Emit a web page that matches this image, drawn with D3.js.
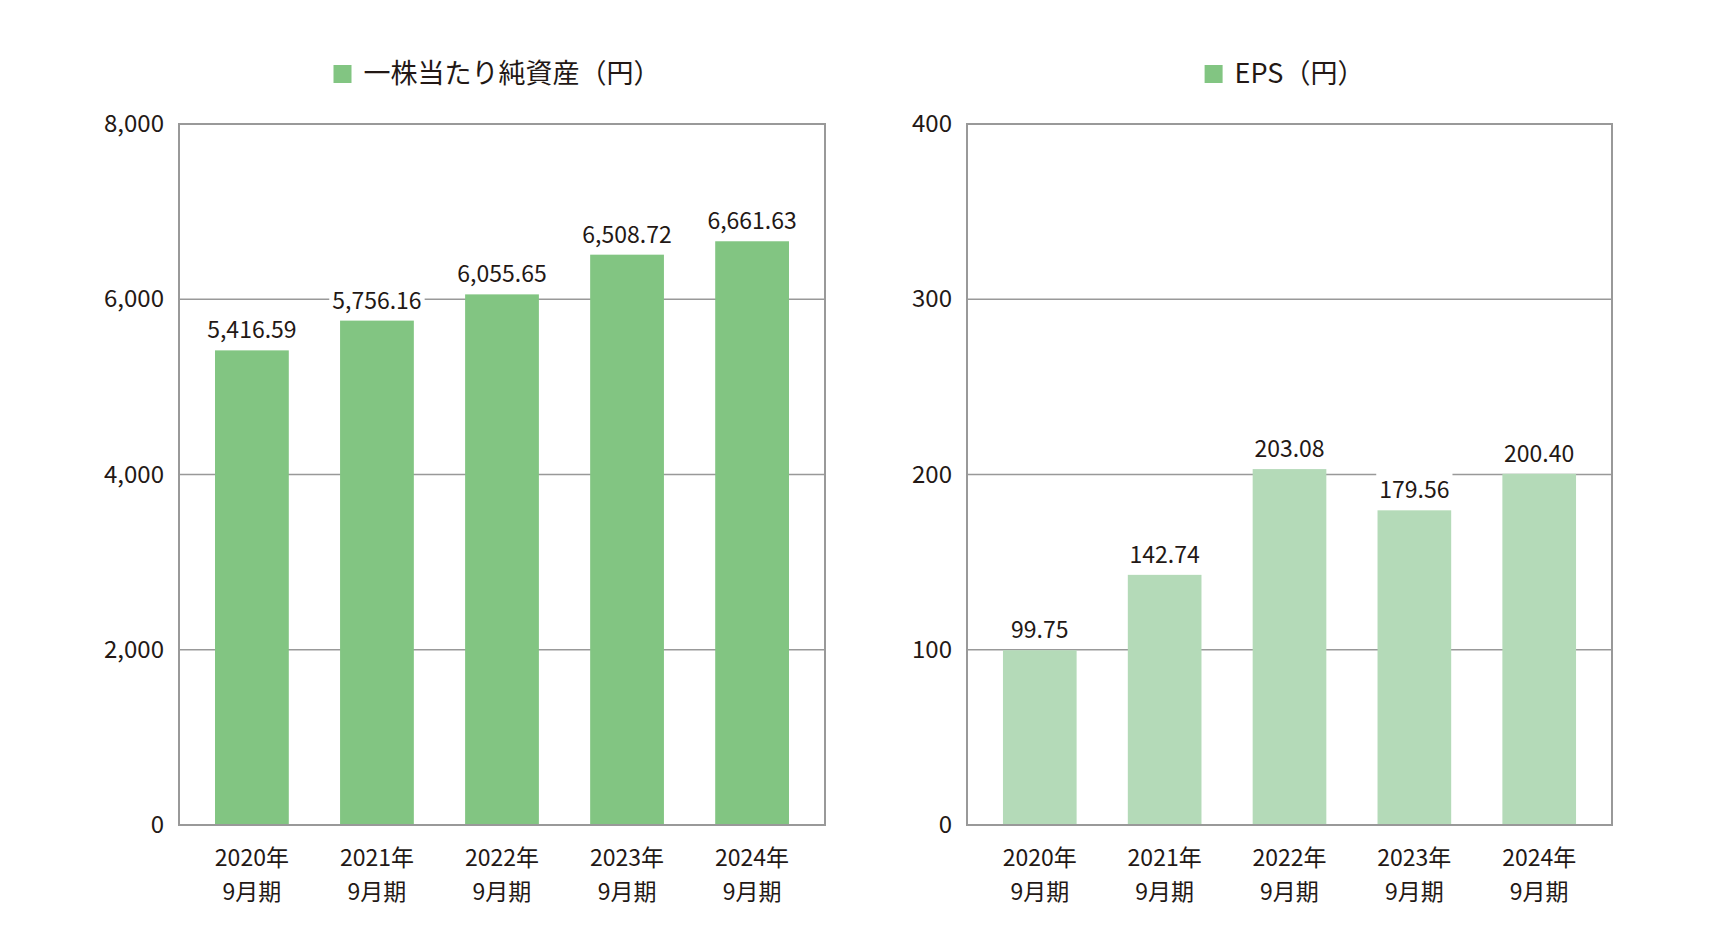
<!DOCTYPE html><html><head><meta charset="utf-8"><script src="https://cdn.jsdelivr.net/npm/d3@7"></script>
<style>body{margin:0;background:#fff}text{font-family:"Noto Sans CJK JP","Noto Sans",sans-serif;fill:#231815}</style></head><body><svg id="c" width="1732" height="946"></svg><script>
const categories=["2020年|9月期","2021年|9月期","2022年|9月期","2023年|9月期","2024年|9月期"];
const bpsValues=[5416.59,5756.16,6055.65,6508.72,6661.63];
const epsValues=[99.75,142.74,203.08,179.56,200.40];
const bpsTicks=[0,2000,4000,6000,8000];
const epsTicks=[0,100,200,300,400];
const svg=d3.select("#c");
function chart(x0,x1,vals,ticks,max,color,title,fmt,tfmt){
 const top=124,bot=825;
 const y=d3.scaleLinear().domain([0,max]).range([bot,top]);
 const x=d3.scalePoint().domain(categories).range([x0,x1]).padding(0.583);
 const bw=x.step()*0.59;
 const g=svg.append("g");
 g.selectAll(".gl").data(ticks.slice(1,-1)).join("line").attr("x1",x0).attr("x2",x1).attr("y1",d=>y(d)).attr("y2",d=>y(d)).attr("stroke","#999").attr("stroke-width",1.5);
 g.selectAll(".b").data(vals).join("rect").attr("x",(d,i)=>x(categories[i])-bw/2).attr("width",bw).attr("y",d=>y(d)).attr("height",d=>bot-y(d)).attr("fill",color);
 g.append("rect").attr("x",x0).attr("y",top).attr("width",x1-x0).attr("height",bot-top).attr("fill","none").attr("stroke","#999").attr("stroke-width",2);
 const ax=d3.axisLeft(y).tickValues(ticks).tickSize(0).tickFormat(tfmt);
 const ag=g.append("g").attr("transform",`translate(${x0-12},0)`).call(ax);
 ag.select(".domain").remove();ag.selectAll("text").attr("font-size",24).attr("fill","#231815").style("font-family","'Noto Sans CJK JP',sans-serif");
 vals.forEach((v,i)=>{const t=g.append("text").attr("x",x(categories[i])).attr("y",y(v)-12).attr("text-anchor","middle").attr("font-size",23).text(fmt(v));
  const bb=t.node().getBBox();g.insert("rect",()=>t.node()).attr("x",bb.x-3).attr("y",bb.y).attr("width",bb.width+6).attr("height",bb.height).attr("fill","#fff");});
 categories.forEach(c=>{const [a,b]=c.split("|");g.append("text").attr("x",x(c)).attr("y",866).attr("text-anchor","middle").attr("font-size",23).text(a);g.append("text").attr("x",x(c)).attr("y",900).attr("text-anchor","middle").attr("font-size",23).text(b);});
 const tt=g.append("text").attr("x",(x0+x1)/2+10).attr("y",83).attr("text-anchor","middle").attr("font-size",27).text(title);
 const bb=tt.node().getBBox();g.append("rect").attr("x",bb.x-30).attr("y",65).attr("width",18).attr("height",18).attr("fill","#82c582");
}
chart(179,825,bpsValues,bpsTicks,8000,"#82c582","一株当たり純資産（円）",d3.format(",.2f"),d3.format(","));
chart(967,1612,epsValues,epsTicks,400,"#b4dab8","EPS（円）",d3.format(".2f"),d3.format(""));
</script></body></html>
